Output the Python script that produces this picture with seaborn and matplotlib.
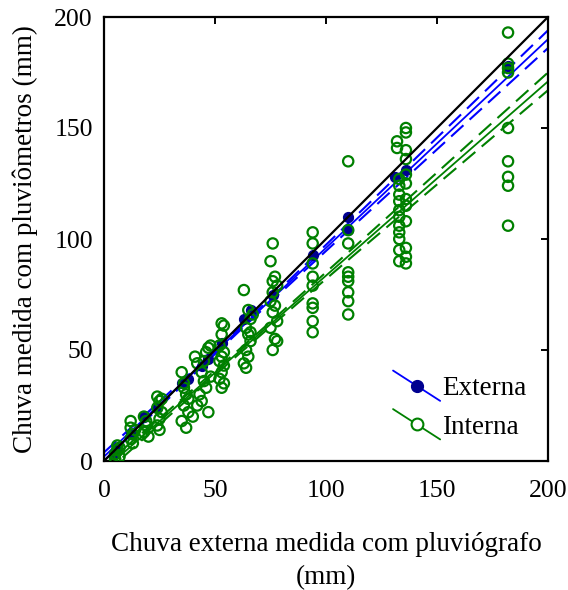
import numpy as np
import pandas as pd
import matplotlib
matplotlib.use("Agg")
import matplotlib.pyplot as plt
import seaborn as sns
from matplotlib.lines import Line2D
from matplotlib.legend_handler import HandlerBase

# ---------------- data ----------------
# Interna (green open circles): rain inside vs external pluviograph
int_x = [5, 5, 6, 6, 7, 5, 7,
         12, 12, 13, 12, 13, 14,
         18, 19, 18, 20, 19, 17,
         24, 25, 24, 26, 25, 24, 25, 26,
         35, 36, 37, 36, 38, 35, 37, 38, 36,
         41, 42, 44, 45, 46, 43, 44, 47, 48, 46, 45, 48, 42, 47, 40,
         53, 54, 53, 52, 54, 53, 52, 54, 53, 52, 54, 53,
         63, 65, 66, 64, 65, 66, 64, 65, 63, 64, 67, 66,
         76, 75, 77, 76, 78, 76, 75, 77, 76, 78, 75, 77, 76, 78,
         94, 94, 94, 94, 94, 94, 94, 94, 94,
         110, 110, 110, 110, 110, 110, 110, 110, 110,
         133, 133, 133, 133, 133, 133, 133, 133, 133, 133, 133, 132, 132,
         136, 136, 136, 136, 136, 136, 136, 136, 136, 136, 136, 136,
         182, 182, 182, 182, 182, 182, 182, 182, 182]
int_y = [1, 3, 5, 7, 2, 0.5, 6,
         18, 15, 12, 10, 8, 14,
         20, 16, 13, 11, 18, 12,
         29, 27, 24, 22, 19, 16, 14, 28,
         40, 35, 30, 25, 22, 18, 15, 28, 33,
         47, 44, 40, 36, 33, 30, 27, 51, 52, 49, 45, 38, 25, 22, 20,
         62, 61, 57, 52, 49, 47, 45, 43, 40, 37, 35, 33,
         77, 68, 64, 60, 57, 54, 50, 47, 44, 42, 66, 58,
         98, 90, 83, 81, 79, 76, 72, 70, 67, 63, 60, 55, 50, 54,
         103, 98, 89, 83, 79, 71, 69, 63, 58,
         135, 104, 98, 85, 83, 81, 76, 72, 66,
         127, 124, 120, 113, 110, 103, 100, 95, 90, 117, 106, 144, 141,
         150, 148, 140, 136, 129, 125, 118, 115, 108, 96, 92, 89,
         193, 179, 177, 175, 150, 135, 128, 124, 106]

# Externa (blue filled circles)
ext_x = [5, 6, 12, 18, 24, 35, 38, 44, 47, 53, 63, 66, 76, 94, 110, 110, 131, 136, 182]
ext_y = [4, 6, 12, 20, 24, 35, 37, 43, 46, 53, 64, 68, 75, 93, 110, 104, 128, 131, 178]

# fitted regressions (intercept, slope) and band half-widths (at mean x, at x=200)
fit_names = ["Externa", "Interna"]
fit_intercept = [2.0, -4.0]
fit_slope = [0.94, 0.875]
band_mid = [0.8, 1.0]
band_end = [4.0, 4.0]
band_center = [60.0, 60.0]

x_ticks = [0, 50, 100, 150, 200]
y_ticks = [0, 50, 100, 150, 200]

# ---------------- style ----------------
sns.set_theme(style="white")
plt.rcParams['font.family'] = ['Liberation Serif', 'DejaVu Serif']
plt.rcParams['text.color'] = 'black'
plt.rcParams['axes.labelcolor'] = 'black'
plt.rcParams['xtick.color'] = 'black'
plt.rcParams['ytick.color'] = 'black'

BLUE_LINE = "#0000FF"
BLUE_MK = "#000090"
GREEN = "#008000"

fig = plt.figure(figsize=(5.68, 5.90), dpi=100)
ax = fig.add_axes([104/568, 1 - 461/590, 444/568, 444/590])

xx = np.linspace(0, 200, 200)
colors = [BLUE_LINE, GREEN]
for i in range(2):
    yfit = fit_intercept[i] + fit_slope[i] * xx
    a = band_mid[i] ** 2
    b = (band_end[i] ** 2 - a) / (200 - band_center[i]) ** 2
    w = np.sqrt(a + b * (xx - band_center[i]) ** 2)
    ax.plot(xx, yfit, color=colors[i], lw=1.3, zorder=2)
    ax.plot(xx, yfit + w, color=colors[i], lw=1.5, dashes=(8, 4), zorder=2)
    ax.plot(xx, yfit - w, color=colors[i], lw=1.5, dashes=(8, 4), zorder=2)

df_ext = pd.DataFrame({"x": ext_x, "y": ext_y})
df_int = pd.DataFrame({"x": int_x, "y": int_y})
sns.scatterplot(data=df_ext, x="x", y="y", ax=ax, s=50, color=BLUE_MK,
                edgecolor=BLUE_MK, linewidth=1.0, zorder=3, legend=False)
sns.scatterplot(data=df_int, x="x", y="y", ax=ax, s=55, facecolor="none",
                edgecolor=GREEN, linewidth=1.6, zorder=4, legend=False)

# 1:1 line
ax.plot([0, 200], [0, 200], color="black", lw=1.6, zorder=5)

ax.set_xlim(0, 200)
ax.set_ylim(0, 200)
ax.set_xticks(x_ticks)
ax.set_yticks(y_ticks)
ax.set_xticklabels([str(t) for t in x_ticks])
ax.set_yticklabels([str(t) for t in y_ticks])
for sp in ax.spines.values():
    sp.set_visible(True)
    sp.set_color("black")
    sp.set_linewidth(1.6)
ax.tick_params(axis="both", which="major", direction="in", length=5, width=1.4,
               top=True, right=True, labelsize=18.5, colors="black")
ax.tick_params(axis="x", pad=13.5)
ax.tick_params(axis="y", pad=8)

ax.set_xlabel("Chuva externa medida com pluviógrafo\n(mm)", fontsize=19.5,
              labelpad=22, linespacing=1.4, color="black")
ax.set_ylabel("Chuva medida com pluviômetros (mm)", fontsize=19.5, labelpad=12,
              color="black")


# legend with diagonal handles
class DiagHandler(HandlerBase):
    def create_artists(self, legend, orig_handle, xdescent, ydescent, width,
                       height, fontsize, trans):
        x0 = -xdescent
        x1 = -xdescent + width
        y0 = -ydescent + height * 1.3
        y1 = -ydescent - height * 0.3
        ln = Line2D([x0, x1], [y0, y1], color=orig_handle.get_color(), lw=1.3)
        mk = Line2D([(x0 + x1) / 2], [(y0 + y1) / 2], marker="o",
                    markersize=orig_handle.get_markersize(),
                    markerfacecolor=orig_handle.get_markerfacecolor(),
                    markeredgecolor=orig_handle.get_markeredgecolor(),
                    markeredgewidth=orig_handle.get_markeredgewidth(),
                    linestyle="none")
        ln.set_transform(trans)
        mk.set_transform(trans)
        return [ln, mk]


h_ext = Line2D([], [], color=BLUE_LINE, marker="o", markersize=8.5,
               markerfacecolor=BLUE_MK, markeredgecolor=BLUE_MK, markeredgewidth=1)
h_int = Line2D([], [], color=GREEN, marker="o", markersize=8.5,
               markerfacecolor="white", markeredgecolor=GREEN, markeredgewidth=1.5)
leg = ax.legend([h_ext, h_int], fit_names, handler_map={Line2D: DiagHandler()},
                loc="upper left", bbox_to_anchor=(0.651, 0.191), frameon=False,
                fontsize=19.5, handlelength=1.74, handletextpad=0.07,
                labelspacing=0.5, borderpad=0, borderaxespad=0)
for t in leg.get_texts():
    t.set_color("black")

fig.savefig("out.png", dpi=100)
